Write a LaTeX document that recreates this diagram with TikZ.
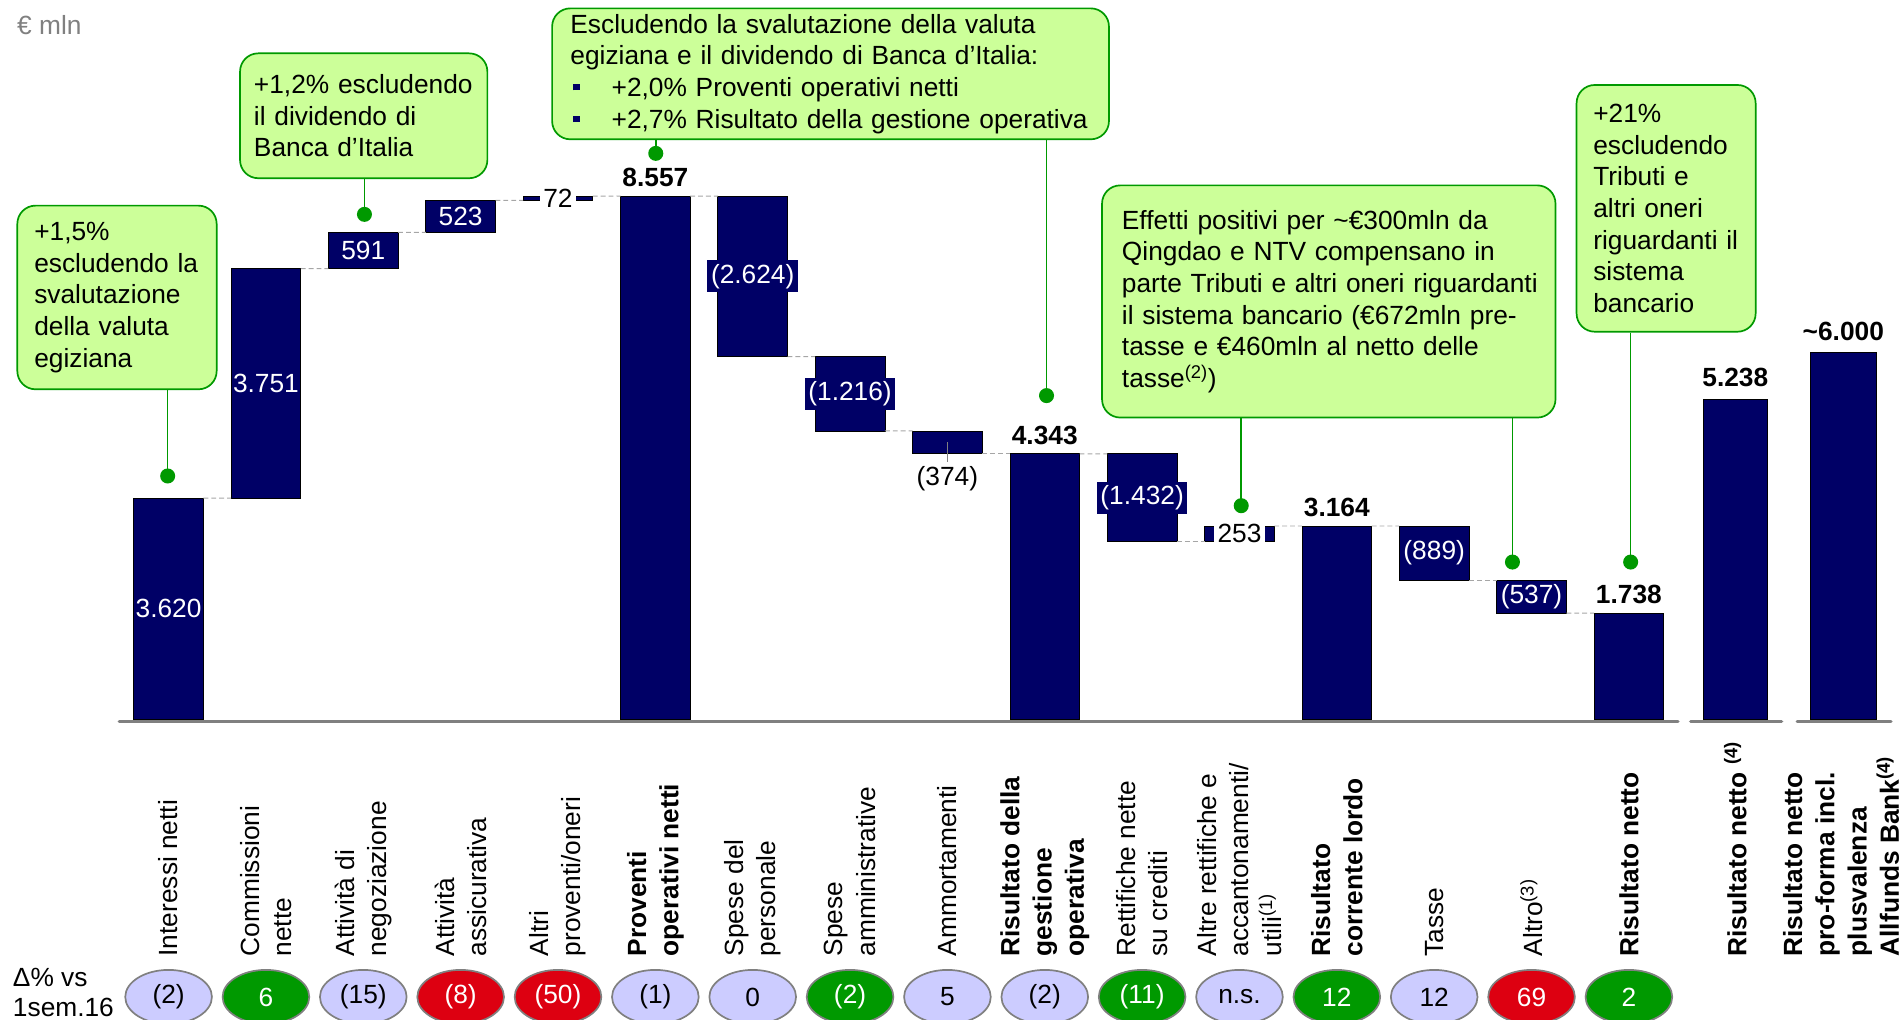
\documentclass[tikz,border=0pt]{standalone}
\usepackage{fontspec}
\setmainfont{Liberation Sans}
\usetikzlibrary{shapes.geometric}
\definecolor{navy}{RGB}{0,0,102}
\definecolor{cfill}{RGB}{204,255,153}
\definecolor{cline}{RGB}{0,153,0}
\definecolor{lav}{RGB}{204,204,255}
\definecolor{pgreen}{RGB}{0,153,0}
\definecolor{pred}{RGB}{221,0,17}
\definecolor{axgray}{RGB}{128,128,128}
\definecolor{dgray}{RGB}{166,166,166}
\newcommand\myfs{\fontsize{21.7}{26.1}\selectfont\parindent=0pt\hyphenpenalty=10000\exhyphenpenalty=10000\hbadness=10000\hfuzz=50pt\relax}
\newcommand\catfs{\fontsize{21.7}{26.6}\selectfont\parindent=0pt\relax}
\newcommand\blt{\makebox[34pt][l]{\hspace*{2.5pt}\raisebox{5pt}{\textcolor{navy}{\rule{5pt}{5pt}}}}}
\begin{document}
\begin{tikzpicture}[x=1pt,y=-1pt,
  wbar/.style={draw=black, line width=0.6pt, fill=navy, inner sep=0pt, outer sep=0pt, minimum width=57.5pt, anchor=south west},
  inl/.style={fill=navy, text=white, inner xsep=3pt, inner ysep=3pt, font=\myfs},
  inlt/.style={inl, inner xsep=0.5pt},
  wl/.style={fill=white, text=black, inner xsep=3pt, inner ysep=1pt, font=\myfs},
  plainlbl/.style={inner sep=3pt, font=\myfs},
  tot/.style={anchor=base, yshift=8pt, inner sep=0pt, font=\myfs\bfseries},
  cat/.style={rotate=90, anchor=west, align=left, inner sep=0pt, font=\catfs},
  catb/.style={cat, font=\catfs\bfseries},
  pill/.style={ellipse, draw=axgray, line width=1.4pt, minimum width=71.5pt, minimum height=44.6pt, inner sep=0pt, font=\myfs},
  cbox/.style={draw=cline, fill=cfill, line width=1.4pt, rounded corners=15pt, align=left, inner ysep=0pt, font=\myfs},
  cconn/.style={draw=cline, line width=1.3pt},
  lvl/.style={draw=dgray, line width=0.8pt, dash pattern=on 4pt off 2.5pt},
  axisline/.style={draw=axgray, line width=2.8pt, line cap=round},
  leader/.style={draw=axgray, line width=0.6pt}
]
\useasboundingbox (0,0) rectangle (1568,841);

% bars
\node[wbar, minimum height=182.67pt] (b1) at (110.3,593.5) {};
\node[wbar, minimum height=189.28pt] (b2) at (190.6,410.83) {};
\node[wbar, minimum height=29.82pt] (b3) at (270.9,221.56) {};
\node[wbar, minimum height=26.39pt] (b4) at (351.2,191.74) {};
\node[wbar, minimum height=3.63pt] (b5) at (431.5,165.35) {};
\node[wbar, minimum height=431.79pt] (b6) at (511.8,593.5) {};
\node[wbar, minimum height=132.41pt] (b7) at (592.1,294.12) {};
\node[wbar, minimum height=61.36pt] (b8) at (672.4,355.48) {};
\node[wbar, minimum height=18.87pt] (b9) at (752.7,374.35) {};
\node[wbar, minimum height=219.15pt] (b10) at (833.0,593.5) {};
\node[wbar, minimum height=72.26pt] (b11) at (913.3,446.61) {};
\node[wbar, minimum height=12.77pt] (b12) at (993.6,446.61) {};
\node[wbar, minimum height=159.66pt] (b13) at (1073.9,593.5) {};
\node[wbar, minimum height=44.86pt] (b14) at (1154.2,478.70) {};
\node[wbar, minimum height=27.10pt] (b15) at (1234.5,505.80) {};
\node[wbar, minimum height=87.70pt] (b16) at (1314.8,593.5) {};
\node[wbar, minimum height=264.31pt, minimum width=52.8pt] (b17) at (1404.9,593.5) {};
\node[wbar, minimum height=302.76pt, minimum width=55pt] (b18) at (1492.9,593.5) {};

% level connectors
\draw[lvl] (b1.north east) -- (b2.south west);
\draw[lvl] (b2.north east) -- (b3.south west);
\draw[lvl] (b3.north east) -- (b4.south west);
\draw[lvl] (b4.north east) -- (b5.south west);
\draw[lvl] (b5.north east) -- (b6.north west);
\draw[lvl] (b6.north east) -- (b7.north west);
\draw[lvl] (b7.south east) -- (b8.north west);
\draw[lvl] (b8.south east) -- (b9.north west);
\draw[lvl] (b9.south east) -- (b10.north west);
\draw[lvl] (b10.north east) -- (b11.north west);
\draw[lvl] (b11.south east) -- (b12.south west);
\draw[lvl] (b12.north east) -- (b13.north west);
\draw[lvl] (b13.north east) -- (b14.north west);
\draw[lvl] (b14.south east) -- (b15.north west);
\draw[lvl] (b15.south east) -- (b16.north west);

% axis
\draw[axisline] (98.4,595.2) -- (1384,595.2);
\draw[axisline] (1394.5,595.2) -- (1469.5,595.2);
\draw[axisline] (1482.4,595.2) -- (1559.7,595.2);

% values
\node[inlt] (v1) at (b1.center) {3.620};
\node[inlt] (v2) at (b2.center) {3.751};
\node[inlt] (v3) at (b3.center) {591};
\node[inlt] (v4) at (b4.center) {523};
\node[wl] (v5) at (b5.center) {72};
\node[inl] (v7) at (b7.center) {(2.624)};
\node[inl] (v8) at (b8.center) {(1.216)};
\node[plainlbl] (v9) at (781.45,394.5) {(374)};
\draw[leader] (b9.center) -- (v9.north);
\node[inl] (v11) at (b11.center) {(1.432)};
\node[wl] (v12) at (b12.center) {253};
\node[inlt] (v14) at (b14.center) {(889)};
\node[inlt] (v15) at (b15.center) {(537)};
\node[tot] (t6) at (b6.north) {8.557};
\node[tot] (t10) at (b10.north) {4.343};
\node[tot] (t13) at (b13.north) {3.164};
\node[tot] (t16) at (b16.north) {1.738};
\node[tot, yshift=2pt] (t17) at (b17.north) {5.238};
\node[tot, yshift=2pt] (t18) at (b18.north) {\textasciitilde 6.000};

% category labels
\node[cat] (c1) at (139.05,789) {Interessi netti};
\node[cat] (c2) at (219.35,789) {Commissioni\\nette};
\node[cat] (c3) at (299.65,789) {Attività di\\negoziazione};
\node[cat] (c4) at (379.95,789) {Attività\\assicurativa};
\node[cat] (c5) at (460.25,789) {Altri\\proventi/oneri};
\node[catb] (c6) at (540.55,789) {Proventi\\operativi netti};
\node[cat] (c7) at (620.85,789) {Spese del\\personale};
\node[cat] (c8) at (701.15,789) {Spese\\amministrative};
\node[cat] (c9) at (781.45,789) {Ammortamenti};
\node[catb] (c10) at (861.75,789) {Risultato della\\gestione\\operativa};
\node[cat] (c11) at (942.05,789) {Rettifiche nette\\su crediti};
\node[cat] (c12) at (1022.35,789) {Altre rettifiche e\\accantonamenti/\\utili\textsuperscript{(1)}};
\node[catb] (c13) at (1102.65,789) {Risultato\\corrente lordo};
\node[cat] (c14) at (1182.95,789) {Tasse};
\node[cat] (c15) at (1263.25,789) {Altro\textsuperscript{(3)}};
\node[catb] (c16) at (1343.55,789) {Risultato netto};
\node[catb] (c17) at (1431.3,789) {Risultato netto \textsuperscript{(4)}};
\node[catb] (c18) at (1518.6,789) {Risultato netto\\pro-forma incl.\\plusvalenza\\Allfunds Bank\textsuperscript{(4)}};

% delta pills
\node[anchor=north west, align=left, inner sep=0pt, font={\fontsize{21.7}{24.7}\selectfont}] (dlt) at (10.5,798.6) {Δ\% vs\\1sem.16};
\node[pill, fill=lav] (e1) at (139.05,822.3) {(2)};
\node[pill, fill=pgreen, text=white] (e2) at (219.35,822.3) {6};
\node[pill, fill=lav] (e3) at (299.65,822.3) {(15)};
\node[pill, fill=pred, text=white] (e4) at (379.95,822.3) {(8)};
\node[pill, fill=pred, text=white] (e5) at (460.25,822.3) {(50)};
\node[pill, fill=lav] (e6) at (540.55,822.3) {(1)};
\node[pill, fill=lav] (e7) at (620.85,822.3) {0};
\node[pill, fill=pgreen, text=white] (e8) at (701.15,822.3) {(2)};
\node[pill, fill=lav] (e9) at (781.45,822.3) {5};
\node[pill, fill=lav] (e10) at (861.75,822.3) {(2)};
\node[pill, fill=pgreen, text=white] (e11) at (942.05,822.3) {(11)};
\node[pill, fill=lav] (e12) at (1022.35,822.3) {n.s.};
\node[pill, fill=pgreen, text=white] (e13) at (1102.65,822.3) {12};
\node[pill, fill=lav] (e14) at (1182.95,822.3) {12};
\node[pill, fill=pred, text=white] (e15) at (1263.25,822.3) {69};
\node[pill, fill=pgreen, text=white] (e16) at (1343.55,822.3) {2};

% unit
\node[anchor=base west, inner sep=0pt, text=axgray, font=\myfs] (unit) at (14,28.3) {€ mln};

% callouts
\node[cbox, minimum width=164.4pt, minimum height=151.5pt, text width=136.4pt, inner xsep=14pt] (cA) at (96.5,245.35)
  {+1,5\%\\escludendo~la\\svalutazione\\della~valuta\\egiziana};
\node[cbox, minimum width=204pt, minimum height=103pt, text width=181pt, inner xsep=11.5pt] (cB) at (300,95.5)
  {+1,2\%~escludendo\\il~dividendo~di\\Banca~d’Italia};
\node[cbox, minimum width=459.3pt, minimum height=108pt, text width=429.1pt, inner xsep=15.1pt] (cC) at (685.05,60.9)
  {Escludendo~la~svalutazione~della~valuta\\egiziana~e~il~dividendo~di~Banca~d’Italia:\\\blt+2,0\%~Proventi~operativi~netti\\\blt+2,7\%~Risultato~della~gestione~operativa};
\node[cbox, minimum width=374pt, minimum height=191.5pt, text width=341.2pt, inner xsep=16.4pt] (cD) at (1096,248.65)
  {Effetti~positivi~per~\textasciitilde€300mln~da\\Qingdao~e~NTV~compensano~in\\\mbox{parte~Tributi~e~altri~oneri~riguardanti}\\il~sistema~bancario~(€672mln~pre-\\tasse~e~€460mln~al~netto~delle\\tasse\textsuperscript{(2)})};
\node[cbox, minimum width=147.7pt, minimum height=203.5pt, text width=120.1pt, inner xsep=13.8pt] (cE) at (1374.25,171.85)
  {+21\%\\escludendo\\Tributi~e\\altri~oneri\\riguardanti~il\\sistema\\bancario};

% callout connectors
\coordinate (dA) at (138.3,392.6);
\coordinate (dB) at (300.6,176.8);
\coordinate (dC1) at (540.9,126.5);
\coordinate (dC2) at (863.2,326.3);
\coordinate (dD1) at (1023.8,417.1);
\coordinate (dD2) at (1247.5,463.6);
\coordinate (dE) at (1345,463.6);
\draw[cconn] (cA.south -| dA) -- (dA);
\draw[cconn] (cB.south -| dB) -- (dB);
\draw[cconn] (cC.south -| dC1) -- (dC1);
\draw[cconn] (cC.south -| dC2) -- (dC2);
\draw[cconn] (cD.south -| dD1) -- (dD1);
\draw[cconn] (cD.south -| dD2) -- (dD2);
\draw[cconn] (cE.south -| dE) -- (dE);
\foreach \d in {dA,dB,dC1,dC2,dD1,dD2,dE}{\fill[cline] (\d) circle[radius=6.2pt];}
\end{tikzpicture}
\end{document}
